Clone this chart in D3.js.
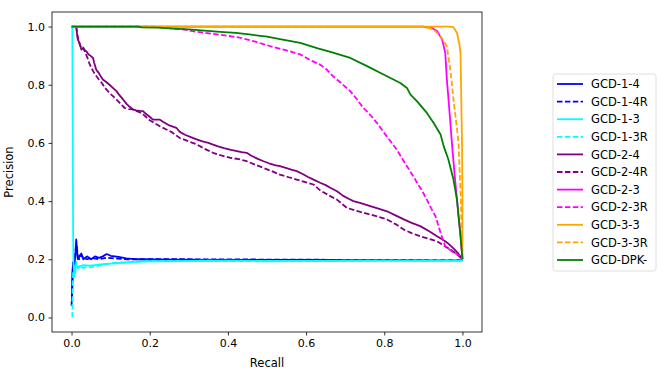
<!DOCTYPE html>
<html>
<head>
<meta charset="utf-8">
<script src="https://cdn.jsdelivr.net/npm/d3@7"></script>
<style>
  body { margin: 0; background: #fff; }
  text { font-family: "DejaVu Sans", sans-serif; fill: #000; }
</style>
</head>
<body>
<div id="chart-area"></div>
<script>

// series names, in drawing order
var seriesNames = ["GCD-1-4", "GCD-1-4R", "GCD-1-3", "GCD-1-3R", "GCD-2-4", "GCD-2-4R",
  "GCD-2-3", "GCD-2-3R", "GCD-3-3", "GCD-3-3R", "GCD-DPK-"];

// [recall, precision] pairs
var gcd14 = [[0.001,0.06],[0.002,0.15],[0.004,0.19],[0.007,0.17],[0.01,0.22],[0.012,0.268],[0.014,0.23],
  [0.016,0.2],[0.02,0.21],[0.025,0.22],[0.03,0.2],[0.035,0.205],[0.04,0.21],[0.05,0.2],[0.06,0.21],
  [0.07,0.205],[0.08,0.21],[0.09,0.218],[0.1,0.212],[0.12,0.208],[0.14,0.203],[0.17,0.2],[0.25,0.199],
  [0.4,0.198],[0.6,0.198],[0.8,0.197],[1.0,0.196]];
var gcd14R = [[0.0,0.04],[0.002,0.1],[0.004,0.18],[0.008,0.2],[0.011,0.24],[0.013,0.25],[0.016,0.21],
  [0.02,0.2],[0.025,0.215],[0.03,0.205],[0.04,0.2],[0.05,0.205],[0.07,0.2],[0.09,0.205],[0.11,0.203],
  [0.14,0.2],[0.2,0.2],[0.3,0.2],[0.5,0.199],[0.7,0.198],[1.0,0.197]];
var gcd13 = [[0.002,1.0],[0.003,0.6],[0.004,0.3],[0.005,0.18],[0.007,0.15],[0.01,0.18],[0.015,0.17],
  [0.02,0.175],[0.03,0.18],[0.045,0.178],[0.06,0.18],[0.08,0.183],[0.1,0.185],[0.13,0.188],[0.17,0.192],
  [0.2,0.193],[0.3,0.194],[0.4,0.195],[0.6,0.194],[0.8,0.195],[1.0,0.195]];
var gcd13R = [[0.002,0.0],[0.003,0.1],[0.004,0.16],[0.007,0.14],[0.01,0.16],[0.013,0.19],[0.017,0.17],
  [0.022,0.18],[0.03,0.17],[0.04,0.175],[0.05,0.172],[0.07,0.178],[0.09,0.183],[0.11,0.188],
  [0.15,0.19],[0.2,0.194],[0.35,0.195],[0.5,0.193],[0.7,0.195],[1.0,0.196]];
var gcd24 = [[0.012,1.0],[0.014,0.975],[0.016,0.955],[0.02,0.945],[0.025,0.921],[0.03,0.925],[0.034,0.918],
  [0.038,0.915],[0.043,0.905],[0.048,0.9],[0.055,0.892],[0.058,0.875],[0.063,0.852],[0.07,0.84],
  [0.075,0.828],[0.08,0.818],[0.088,0.81],[0.097,0.8],[0.105,0.79],[0.115,0.778],[0.122,0.765],
  [0.132,0.749],[0.14,0.735],[0.148,0.725],[0.157,0.715],[0.165,0.712],[0.175,0.71],[0.183,0.709],
  [0.19,0.7],[0.2,0.69],[0.208,0.68],[0.218,0.68],[0.226,0.68],[0.235,0.672],[0.25,0.66],[0.268,0.652],
  [0.277,0.638],[0.29,0.628],[0.305,0.62],[0.32,0.612],[0.335,0.605],[0.35,0.6],[0.362,0.594],
  [0.375,0.588],[0.39,0.582],[0.405,0.577],[0.42,0.573],[0.435,0.568],[0.448,0.566],[0.46,0.556],
  [0.475,0.546],[0.491,0.537],[0.505,0.53],[0.52,0.524],[0.533,0.52],[0.548,0.514],[0.562,0.508],
  [0.576,0.503],[0.59,0.494],[0.605,0.483],[0.619,0.474],[0.636,0.463],[0.65,0.455],[0.662,0.446],
  [0.679,0.434],[0.695,0.418],[0.71,0.407],[0.721,0.4],[0.74,0.393],[0.764,0.383],[0.785,0.374],
  [0.807,0.365],[0.83,0.35],[0.85,0.337],[0.87,0.325],[0.892,0.314],[0.915,0.296],[0.935,0.279],
  [0.95,0.267],[0.961,0.257],[0.975,0.24],[0.988,0.222],[1.0,0.2]];
var gcd24R = [[0.012,1.0],[0.015,0.97],[0.018,0.95],[0.022,0.935],[0.026,0.925],[0.03,0.928],[0.035,0.91],
  [0.04,0.895],[0.045,0.875],[0.05,0.86],[0.056,0.845],[0.062,0.832],[0.07,0.818],[0.078,0.805],
  [0.085,0.79],[0.093,0.778],[0.1,0.768],[0.108,0.758],[0.115,0.749],[0.125,0.735],[0.136,0.72],
  [0.147,0.716],[0.157,0.715],[0.165,0.71],[0.175,0.705],[0.183,0.698],[0.19,0.69],[0.2,0.678],
  [0.212,0.668],[0.226,0.657],[0.24,0.648],[0.255,0.638],[0.277,0.617],[0.3,0.605],[0.32,0.595],
  [0.34,0.58],[0.362,0.566],[0.385,0.556],[0.405,0.549],[0.428,0.544],[0.448,0.537],[0.47,0.525],
  [0.491,0.514],[0.512,0.503],[0.533,0.491],[0.555,0.482],[0.576,0.474],[0.598,0.465],[0.619,0.457],
  [0.636,0.437],[0.662,0.417],[0.679,0.405],[0.704,0.377],[0.73,0.366],[0.764,0.354],[0.785,0.346],
  [0.807,0.337],[0.83,0.32],[0.85,0.302],[0.87,0.29],[0.892,0.279],[0.915,0.27],[0.935,0.262],
  [0.955,0.245],[0.969,0.234],[0.985,0.218],[1.0,0.2]];
var gcd23 = [[0.0,1.0],[0.9,1.0],[0.922,0.995],[0.935,0.985],[0.948,0.955],[0.956,0.91],[0.96,0.82],
  [0.965,0.738],[0.974,0.584],[0.98,0.49],[0.986,0.405],[0.995,0.28],[1.0,0.2]];
var gcd23R = [[0.0,1.0],[0.2,1.0],[0.25,0.995],[0.285,0.99],[0.32,0.982],[0.36,0.975],[0.4,0.968],
  [0.43,0.962],[0.47,0.948],[0.515,0.93],[0.55,0.918],[0.585,0.904],[0.61,0.885],[0.636,0.869],
  [0.653,0.852],[0.669,0.829],[0.69,0.805],[0.713,0.778],[0.73,0.75],[0.746,0.721],[0.765,0.695],
  [0.781,0.669],[0.805,0.625],[0.832,0.577],[0.845,0.548],[0.858,0.52],[0.872,0.49],[0.884,0.463],
  [0.897,0.435],[0.909,0.405],[0.92,0.375],[0.931,0.348],[0.938,0.318],[0.944,0.291],[0.956,0.245],
  [0.975,0.225],[0.995,0.211],[1.0,0.2]];
var gcd33 = [[0.0,1.0],[0.965,1.0],[0.977,0.998],[0.986,0.978],[0.992,0.94],[0.995,0.91],[0.997,0.75],
  [0.999,0.589],[1.0,0.4],[1.0,0.2]];
var gcd33R = [[0.0,1.0],[0.9,1.0],[0.926,0.99],[0.945,0.965],[0.96,0.932],[0.969,0.852],[0.978,0.738],
  [0.985,0.66],[0.99,0.6],[0.993,0.5],[0.996,0.4],[0.998,0.3],[1.0,0.2]];
var gcdDPK = [[0.0,1.0],[0.17,1.0],[0.18,0.997],[0.22,0.996],[0.26,0.993],[0.3,0.99],[0.34,0.986],
  [0.38,0.982],[0.42,0.978],[0.46,0.972],[0.5,0.965],[0.54,0.955],[0.585,0.944],[0.63,0.925],
  [0.669,0.91],[0.713,0.892],[0.756,0.864],[0.798,0.835],[0.841,0.806],[0.858,0.789],[0.867,0.766],
  [0.884,0.743],[0.909,0.703],[0.926,0.669],[0.944,0.629],[0.952,0.589],[0.964,0.543],[0.977,0.474],
  [0.986,0.405],[0.99,0.348],[0.995,0.28],[1.0,0.2]];

var xTicks = [0.0, 0.2, 0.4, 0.6, 0.8, 1.0];
var yTicks = [0.0, 0.2, 0.4, 0.6, 0.8, 1.0];

var seriesData = [gcd14, gcd14R, gcd13, gcd13R, gcd24, gcd24R, gcd23, gcd23R, gcd33, gcd33R, gcdDPK];
var colors = ["blue", "blue", "cyan", "cyan", "purple", "purple", "magenta", "magenta", "orange", "orange", "green"];
var dashed = [false, true, false, true, false, true, false, true, false, true, false];

var margin = { left: 52, right: 183, top: 12, bottom: 46 };
var width = 665 - margin.left - margin.right;
var height = 378 - margin.top - margin.bottom;

var svg = d3.select("#chart-area").append("svg")
  .attr("width", 665)
  .attr("height", 378);

var g = svg.append("g")
  .attr("transform", "translate(" + margin.left + "," + margin.top + ")");

// scales
var x = d3.scaleLinear().domain([-0.05, 1.05]).range([0, width]);
var y = d3.scaleLinear().domain([-0.05, 1.05]).range([height, 0]);

var line = d3.line()
  .x(function(d) { return x(d[0]); })
  .y(function(d) { return y(d[1]); });

// curves
g.append("g").selectAll("path")
  .data(seriesData)
  .enter().append("path")
    .attr("d", line)
    .attr("fill", "none")
    .attr("stroke", function(d, i) { return colors[i]; })
    .attr("stroke-width", 1.8)
    .attr("stroke-linejoin", "round")
    .attr("stroke-dasharray", function(d, i) { return dashed[i] ? "5.5,2.4" : null; });

// axes
var xAxisCall = d3.axisBottom(x).tickValues(xTicks).tickSize(3.5).tickPadding(3.5)
  .tickFormat(d3.format(".1f"));
var yAxisCall = d3.axisLeft(y).tickValues(yTicks).tickSize(3.5).tickPadding(3.5)
  .tickFormat(d3.format(".1f"));

var xAxisGroup = g.append("g")
  .attr("transform", "translate(0," + height + ")")
  .call(xAxisCall);
var yAxisGroup = g.append("g").call(yAxisCall);

[xAxisGroup, yAxisGroup].forEach(function(ax) {
  ax.select(".domain").remove();
  ax.selectAll("line").attr("stroke", "#000").attr("stroke-width", 0.8);
  ax.selectAll("text").attr("font-size", "11px").attr("font-family", "DejaVu Sans");
});

// frame
g.append("rect")
  .attr("width", width)
  .attr("height", height)
  .attr("fill", "none")
  .attr("stroke", "#000")
  .attr("stroke-width", 0.8);

// labels
g.append("text")
  .attr("x", width / 2)
  .attr("y", height + 35)
  .attr("font-size", "11.5px")
  .attr("text-anchor", "middle")
  .text("Recall");

g.append("text")
  .attr("x", -(height / 2))
  .attr("y", -39)
  .attr("font-size", "11.5px")
  .attr("text-anchor", "middle")
  .attr("transform", "rotate(-90)")
  .text("Precision");

// legend
var legend = svg.append("g").attr("transform", "translate(553,74)");
legend.append("rect")
  .attr("width", 103)
  .attr("height", 197)
  .attr("rx", 2.5)
  .attr("fill", "#fff")
  .attr("stroke", "#d6d6d6")
  .attr("stroke-width", 0.8);

var rows = legend.selectAll(".row")
  .data(seriesNames)
  .enter().append("g")
    .attr("class", "row")
    .attr("transform", function(d, i) { return "translate(0," + (10 + i * 17.6) + ")"; });

rows.append("line")
  .attr("x1", 4).attr("x2", 30)
  .attr("stroke", function(d, i) { return colors[i]; })
  .attr("stroke-width", 1.8)
  .attr("stroke-dasharray", function(d, i) { return dashed[i] ? "5.5,2.4" : null; });

rows.append("text")
  .attr("x", 38)
  .attr("dy", "0.36em")
  .attr("font-size", "11.5px")
  .text(function(d) { return d; });

</script>
</body>
</html>
